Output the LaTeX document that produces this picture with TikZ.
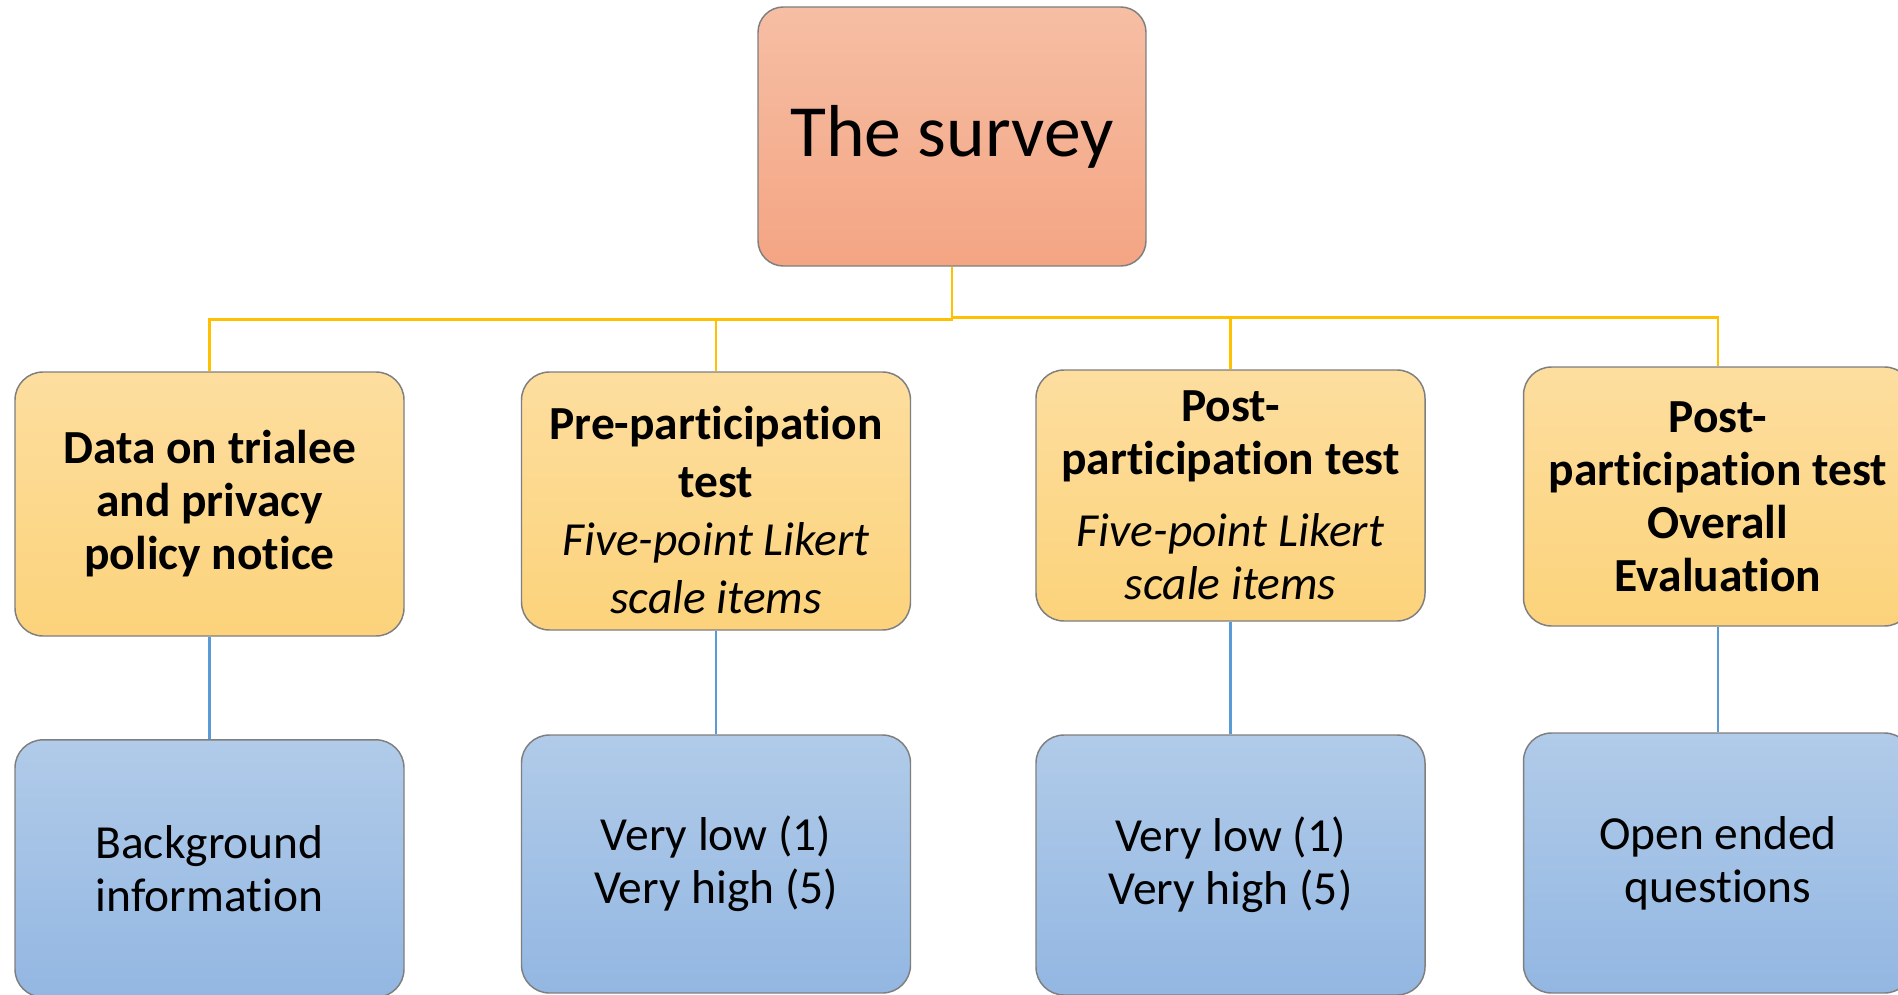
\documentclass[tikz,border=0pt]{standalone}
\usepackage{fontspec}
\setmainfont[Ligatures=NoCommon]{Carlito}
\definecolor{topA}{HTML}{F6BEA4}
\definecolor{topB}{HTML}{F4A583}
\definecolor{orgA}{HTML}{FDDE9F}
\definecolor{orgB}{HTML}{FCD37B}
\definecolor{bluA}{HTML}{B1CBE9}
\definecolor{bluB}{HTML}{93B7E2}
\definecolor{edgegray}{HTML}{7F7F7F}
\definecolor{ylwline}{HTML}{FFC000}
\definecolor{bluline}{HTML}{5B9BD5}
\tikzset{
  boxbase/.style={draw=edgegray, line width=1.1pt, rounded corners=21pt, align=center, inner sep=0pt, text=black},
  topbox/.style={boxbase, rounded corners=19pt, top color=topA, bottom color=topB, minimum width=291pt, minimum height=194.25pt, font=\fontsize{55.2pt}{62pt}\selectfont},
  midbox/.style={boxbase, top color=orgA, bottom color=orgB, minimum width=291.75pt, font=\fontsize{35.6pt}{39.75pt}\selectfont},
  lowbox/.style={boxbase, top color=bluA, bottom color=bluB, minimum width=291.75pt, font=\fontsize{35.6pt}{39.75pt}\selectfont},
  txt/.style={align=center, inner sep=0pt, text=black},
  ylw/.style={draw=ylwline, line width=2.1pt},
  blu/.style={draw=bluline, line width=2pt}
}
\begin{document}
\begin{tikzpicture}[x=0.75pt, y=-0.75pt]
\useasboundingbox (0,0) rectangle (1898,995);
\clip (0,0) rectangle (1898,995);
\fill[white] (0,0) rectangle (1898,995);
% top
\node[topbox] (top) at (952,136.5) {The survey};
% middle row
\node[midbox, minimum height=198pt] (d1) at (209.5,504) {\bfseries Data on trialee\\\bfseries and privacy\\\bfseries policy notice};
\node[midbox, minimum height=193.5pt] (d2) at (716,501) {};
\node[txt, font=\fontsize{35.6pt}{43.5pt}\selectfont] (d2t) at (716,510) {\textbf{Pre-participation}\\\textbf{test}\\\textit{Five-point Likert}\\\textit{scale items}};
\node[midbox, minimum height=188.25pt] (d3) at (1230.5,495.5) {\textbf{Post-}\\\textbf{participation test}\\[14pt]\textit{Five-point Likert}\\\textit{scale items}};
\node[midbox, minimum height=194.25pt] (d4) at (1718,496.5) {\bfseries Post-\\\bfseries participation test\\\bfseries Overall\\\bfseries Evaluation};
% bottom row
\node[lowbox, minimum height=193pt] (e1) at (209.5,868.5) {Background\\information};
\node[lowbox, minimum height=193.5pt] (e2) at (716,864) {Very low (1)\\Very high (5)};
\node[lowbox, minimum height=195pt] (e3) at (1230.5,865) {Very low (1)\\Very high (5)};
\node[lowbox, minimum height=195pt] (e4) at (1718,863) {Open ended\\questions};
% yellow connectors
\draw[ylw] (top.south) -- ++(0,53) -| (d1.north);
\draw[ylw] (top.south) -- ++(0,53) -| (d2.north);
\draw[ylw] (top.south) -- ++(0,51) -| (d3.north);
\draw[ylw] (top.south) -- ++(0,51) -| (d4.north);
% blue connectors
\draw[blu] (d1.south) -- (e1.north);
\draw[blu] (d2.south) -- (e2.north);
\draw[blu] (d3.south) -- (e3.north);
\draw[blu] (d4.south) -- (e4.north);
\end{tikzpicture}
\end{document}
